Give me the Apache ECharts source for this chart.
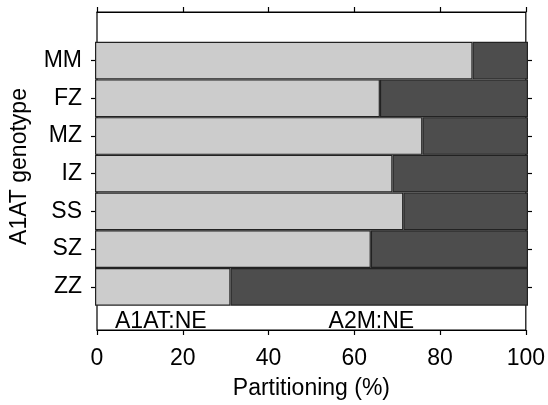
<!DOCTYPE html>
<html><head><meta charset="utf-8">
<script src="https://cdn.jsdelivr.net/npm/echarts@6/dist/echarts.min.js"></script>
<style>html,body{margin:0;padding:0;background:#fff}#c{width:548px;height:405px}</style>
</head><body><div id="c"></div>
<script>
const genotypes = ['MM', 'FZ', 'MZ', 'IZ', 'SS', 'SZ', 'ZZ'];
const a1atNE = [87.2, 65.8, 75.6, 68.7, 71.2, 63.7, 31.3];
const a2mNE = a1atNE.map(v => +(100 - v).toFixed(1));
const xTicks = [0, 20, 40, 60, 80, 100];
const annotations = [{ text: 'A1AT:NE', at: 4.2 }, { text: 'A2M:NE', at: 54 }];

const FONT = 'Liberation Sans, Arial, Helvetica, sans-serif';
const FS = 23;
const chart = echarts.init(document.getElementById('c'), null, { renderer: 'canvas' });
const L = 95, W = 433;
const option = {
  animation: false,
  backgroundColor: '#fff',
  textStyle: { fontFamily: FONT },
  grid: [
    { left: L, top: 12, width: W, height: 323, show: true, borderColor: '#000', borderWidth: 1.2, backgroundColor: 'transparent' },
    { left: L, top: 41.7, width: W, height: 264 }
  ],
  xAxis: [
    { type: 'value', gridIndex: 0, min: xTicks[0], max: xTicks[xTicks.length - 1], interval: 20, position: 'bottom',
      axisLine: { show: true, lineStyle: { color: '#000', width: 1.2 } },
      axisTick: { show: true, length: 5, lineStyle: { color: '#000', width: 1.2 } },
      axisLabel: { color: '#000', fontSize: FS, fontFamily: FONT, margin: 17 },
      splitLine: { show: false },
      name: 'Partitioning (%)', nameLocation: 'middle', nameGap: 47,
      nameTextStyle: { color: '#000', fontSize: FS, fontFamily: FONT } },
    { type: 'value', gridIndex: 0, min: 0, max: 100, interval: 20, position: 'top',
      axisLine: { show: true, lineStyle: { color: '#000', width: 1.2 } },
      axisTick: { show: true, length: 5, lineStyle: { color: '#000', width: 1.2 } },
      axisLabel: { show: false }, splitLine: { show: false } },
    { type: 'value', gridIndex: 1, min: 0, max: 100, show: false }
  ],
  yAxis: [
    { type: 'value', gridIndex: 0, min: 0, max: 1, show: true,
      axisLine: { show: false }, axisTick: { show: false }, axisLabel: { show: false }, splitLine: { show: false },
      name: 'A1AT genotype', nameLocation: 'middle', nameGap: 66, nameRotate: 90,
      nameTextStyle: { color: '#000', fontSize: FS, fontFamily: FONT, padding: [0, 0, 0, 9] } },
    { type: 'category', gridIndex: 1, data: genotypes, inverse: true, position: 'left',
      axisLine: { show: false },
      axisTick: { show: true, alignWithLabel: true, length: 4, lineStyle: { color: '#000', width: 1.2 } },
      axisLabel: { color: '#000', fontSize: FS, fontFamily: FONT, margin: 13 } },
    { type: 'category', gridIndex: 1, data: genotypes, inverse: true, position: 'right',
      axisLine: { show: false },
      axisTick: { show: true, alignWithLabel: true, length: 4, lineStyle: { color: '#000', width: 1.2 } },
      axisLabel: { show: false } }
  ],
  series: [
    { name: 'A1AT:NE', type: 'bar', stack: 'p', xAxisIndex: 2, yAxisIndex: 1, data: a1atNE,
      barCategoryGap: 0, itemStyle: { color: '#cccccc', borderColor: '#222', borderWidth: 1.2 } },
    { name: 'A2M:NE', type: 'bar', stack: 'p', xAxisIndex: 2, yAxisIndex: 1, data: a2mNE,
      barCategoryGap: 0, itemStyle: { color: '#4d4d4d', borderColor: '#222', borderWidth: 1.2 } }
  ]
};
chart.setOption(option);
const yMid = 321.5;
chart.setOption({
  graphic: annotations.map(a => ({
    type: 'text',
    x: chart.convertToPixel({ xAxisIndex: 0 }, a.at),
    y: yMid,
    style: { text: a.text, fill: '#000', font: FS + 'px ' + FONT, textAlign: 'left', textVerticalAlign: 'middle' }
  }))
});
</script></body></html>
